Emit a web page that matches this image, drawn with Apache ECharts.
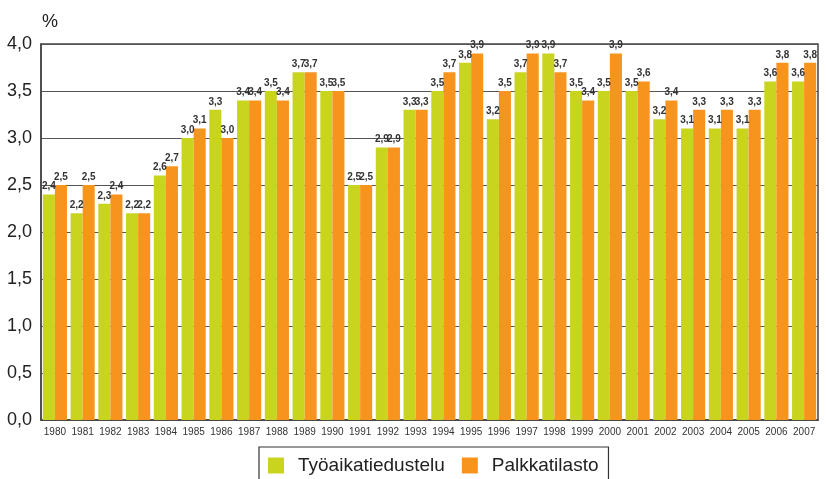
<!DOCTYPE html>
<html lang="fi">
<head>
    <meta charset="UTF-8">
    <title>Ansiotason nousu</title>
    <script src="https://cdn.jsdelivr.net/npm/echarts@6/dist/echarts.min.js"></script>
</head>
<style>
    html, body { margin: 0; padding: 0; background: #fff; }
    #main { width: 826px; height: 479px; }
</style>
<body>
<div id="main"></div>
<script>
    // vuodet
    var years = ['1980','1981','1982','1983','1984','1985','1986','1987','1988','1989',
        '1990','1991','1992','1993','1994','1995','1996','1997','1998','1999',
        '2000','2001','2002','2003','2004','2005','2006','2007'];
    var tyoaika = [2.4,2.2,2.3,2.2,2.6,3.0,3.3,3.4,3.5,3.7,3.5,2.5,2.9,3.3,3.5,3.8,3.2,3.7,3.9,3.5,3.5,3.5,3.2,3.1,3.1,3.1,3.6,3.6];
    var palkka = [2.5,2.5,2.4,2.2,2.7,3.1,3.0,3.4,3.4,3.7,3.5,2.5,2.9,3.3,3.7,3.9,3.5,3.9,3.7,3.4,3.9,3.6,3.4,3.3,3.3,3.3,3.8,3.8];
    var seriesNames = ['Työaikatiedustelu', 'Palkkatilasto'];

    function fi(v) { return v.toFixed(1).replace('.', ','); }

    var labelStyle = {
        show: true,
        position: 'top',
        distance: 3,
        fontFamily: 'Liberation Sans',
        fontWeight: 'bold',
        fontSize: 10,
        color: '#333',
        formatter: function (p) { return fi(p.value); }
    };

    var myChart = echarts.init(document.getElementById('main'));
    var option = {
        animation: false,
        textStyle: { fontFamily: 'Liberation Sans' },
        grid: {
            left: 41, right: 8, top: 44, bottom: 59,
            show: true, borderColor: '#444', borderWidth: 1.5
        },
        legend: {
            data: seriesNames,
            top: 447,
            left: 259,
            itemWidth: 16, itemHeight: 16, itemGap: 17,
            padding: [9, 10, 10, 9],
            borderColor: '#333', borderWidth: 1.2,
            icon: 'rect',
            textStyle: { fontSize: 19, color: '#222', padding: [0, 0, 0, 9] }
        },
        xAxis: {
            type: 'category',
            data: years,
            axisTick: { show: false },
            axisLine: { lineStyle: { color: '#444', width: 1.5 } },
            axisLabel: { fontSize: 10, color: '#333', margin: 7, interval: 0 }
        },
        yAxis: {
            type: 'value',
            name: '%',
            nameLocation: 'end',
            nameGap: 13,
            nameTextStyle: { fontSize: 18, color: '#222', align: 'left', padding: [0, 0, 0, 1] },
            min: 0, max: 4, interval: 0.5,
            axisLine: { show: true, lineStyle: { color: '#444', width: 1.5 } },
            axisTick: { show: false },
            axisLabel: { fontSize: 18, color: '#222', margin: 9, formatter: function (v) { return fi(v); } },
            splitLine: { lineStyle: { color: '#555', width: 1.2 } }
        },
        series: [{
            name: seriesNames[0],
            type: 'bar',
            data: tyoaika,
            barGap: '0%',
            barCategoryGap: '13%',
            itemStyle: { color: '#c9d41f' },
            label: labelStyle
        }, {
            name: seriesNames[1],
            type: 'bar',
            data: palkka,
            itemStyle: { color: '#f7941e' },
            label: labelStyle
        }]
    };
    myChart.setOption(option);
</script>
</body>
</html>
